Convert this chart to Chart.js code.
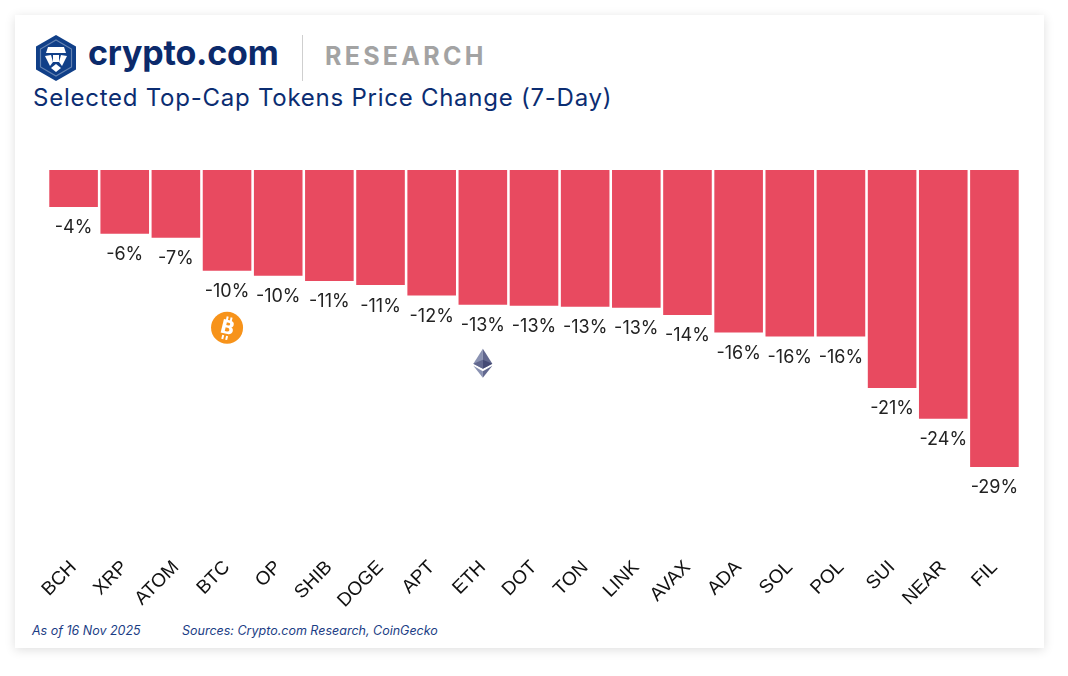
<!DOCTYPE html>
<html>
<head>
<meta charset="utf-8">
<script src="https://cdn.jsdelivr.net/npm/chart.js@4.4.1/dist/chart.umd.min.js"></script>
<style>
  body { margin: 0; background: #fff; font-family: Inter, "Noto Sans", sans-serif; }
  .card {
    position: absolute; left: 15px; top: 15px; width: 1029px; height: 633px;
    background: #fff; box-shadow: 0 2px 10px rgba(0,0,0,0.13);
  }
  .logo { position: absolute; left: 20px; top: 20px; }
  .brand {
    position: absolute; left: 73px; top: 17px; font-size: 34px; font-weight: 700;
    color: #0b2a6b; letter-spacing: -0.2px;
  }
  .divider { position: absolute; left: 287px; top: 20px; width: 1px; height: 46px; background: #cfcfcf; }
  .research {
    position: absolute; left: 310px; top: 26px; font-size: 25px; font-weight: 700;
    color: #a3a3a3; letter-spacing: 3.3px;
  }
  .title { position: absolute; left: 18px; top: 68px; font-size: 24px; color: #0b2d72; letter-spacing: 0.75px; }
  .foot { position: absolute; top: 608px; font-size: 12.5px; font-style: italic; color: #1b3d85; }
  #chart { position: absolute; left: 0; top: 0; }
</style>
</head>
<body>
<div class="card">
  <svg class="logo" width="42" height="46" viewBox="0 0 42 46">
    <polygon points="21,0 41,11.5 41,34.5 21,46 1,34.5 1,11.5" fill="#103f88"/>
    <polygon points="21,5 36.5,14 36.5,32 21,41 5.5,32 5.5,14" fill="none" stroke="#fff" stroke-width="1.2" opacity="0.35"/>
    <polygon points="13,12 29,12 31,18 11,18" fill="#fff"/>
    <path d="M10,21 L16,20 L18,27 L15,31 Z" fill="#fff"/>
    <path d="M32,21 L26,20 L24,27 L27,31 Z" fill="#fff"/>
    <rect x="18" y="20" width="6" height="7" fill="#fff"/>
    <path d="M16,33 L21,29 L26,33 L21,37 Z" fill="#fff"/>
  </svg>
  <div class="brand">crypto.com</div>
  <div class="divider"></div>
  <div class="research">RESEARCH</div>
  <div class="title">Selected Top-Cap Tokens Price Change (7-Day)</div>
  <div class="foot" style="left:17px">As of 16 Nov 2025</div>
  <div class="foot" style="left:167px">Sources: Crypto.com Research, CoinGecko</div>
</div>
<canvas id="chart" width="1068" height="676"></canvas>
<script>
// Tokens and 7-day price change (%)
const tokens = ['BCH', 'XRP', 'ATOM', 'BTC', 'OP', 'SHIB', 'DOGE', 'APT', 'ETH', 'DOT',
                'TON', 'LINK', 'AVAX', 'ADA', 'SOL', 'POL', 'SUI', 'NEAR', 'FIL'];
const priceChange = [-3.6, -6.2, -6.6, -9.8, -10.3, -10.8, -11.2, -12.2, -13.1, -13.2,
                     -13.3, -13.4, -14.1, -15.8, -16.2, -16.2, -21.2, -24.2, -28.9];
const iconTokens = ['BTC', 'ETH'];

// value labels under each bar
const valueLabels = {
    id: 'valueLabels',
    afterDatasetsDraw(chart) {
        const ctx = chart.ctx;
        const meta = chart.getDatasetMeta(0);
        ctx.save();
        ctx.font = '18px Inter, "Noto Sans", sans-serif';
        ctx.fillStyle = '#222';
        ctx.textAlign = 'center';
        ctx.textBaseline = 'middle';
        meta.data.forEach((bar, i) => {
            ctx.fillText(Math.round(priceChange[i]) + '%', bar.x, bar.y + 21);
        });
        ctx.restore();
    }
};

function drawBtc(ctx, x, y) {
    ctx.save();
    ctx.beginPath();
    ctx.arc(x, y, 16, 0, Math.PI * 2);
    ctx.fillStyle = '#f7931a';
    ctx.fill();
    ctx.translate(x, y);
    ctx.rotate(0.24);
    ctx.fillStyle = '#fff';
    ctx.font = 'bold 19px "DejaVu Sans", sans-serif';
    ctx.textAlign = 'center';
    ctx.textBaseline = 'middle';
    ctx.fillText('B', 0.5, 1);
    ctx.fillRect(-3, -11, 2, 4);
    ctx.fillRect(1, -11, 2, 4);
    ctx.fillRect(-3, 8, 2, 4);
    ctx.fillRect(1, 8, 2, 4);
    ctx.restore();
}

function drawEth(ctx, x, y) {
    const poly = (pts, color) => {
        ctx.beginPath();
        pts.forEach((p, i) => i ? ctx.lineTo(x + p[0], y + p[1]) : ctx.moveTo(x + p[0], y + p[1]));
        ctx.closePath();
        ctx.fillStyle = color;
        ctx.fill();
    };
    ctx.save();
    poly([[0, -14], [-9.5, 1], [0, 6]], '#8a92b2');
    poly([[0, -14], [9.5, 1], [0, 6]], '#62688f');
    poly([[0, -3], [-9.5, 1], [0, 6]], '#62688f');
    poly([[0, -3], [9.5, 1], [0, 6]], '#454a75');
    poly([[-9.5, 3], [0, 15], [0, 8.5]], '#8a92b2');
    poly([[9.5, 3], [0, 15], [0, 8.5]], '#62688f');
    ctx.restore();
}

const tokenIcons = {
    id: 'tokenIcons',
    afterDatasetsDraw(chart) {
        const meta = chart.getDatasetMeta(0);
        iconTokens.forEach(t => {
            const bar = meta.data[tokens.indexOf(t)];
            if (t === 'BTC') drawBtc(chart.ctx, bar.x, bar.y + 57);
            else drawEth(chart.ctx, bar.x, bar.y + 58);
        });
    }
};

new Chart(document.getElementById('chart'), {
    type: 'bar',
    data: {
        labels: tokens,
        datasets: [{
            data: priceChange,
            backgroundColor: '#e84a60',
            borderWidth: 0,
            barPercentage: 0.95,
            categoryPercentage: 1.0
        }]
    },
    options: {
        responsive: false,
        animation: false,
        layout: { padding: { left: 48, right: 48, top: 170, bottom: 58 } },
        plugins: {
            legend: { display: false },
            tooltip: { enabled: false }
        },
        scales: {
            y: {
                display: false,
                min: -37,
                max: 0
            },
            x: {
                grid: { display: false, drawTicks: false },
                border: { display: false },
                ticks: {
                    color: '#111',
                    font: { family: '"Liberation Sans", Arial, sans-serif', size: 19 },
                    minRotation: 45,
                    maxRotation: 45,
                    padding: 6
                }
            }
        }
    },
    plugins: [valueLabels, tokenIcons]
});
</script>
</body>
</html>
